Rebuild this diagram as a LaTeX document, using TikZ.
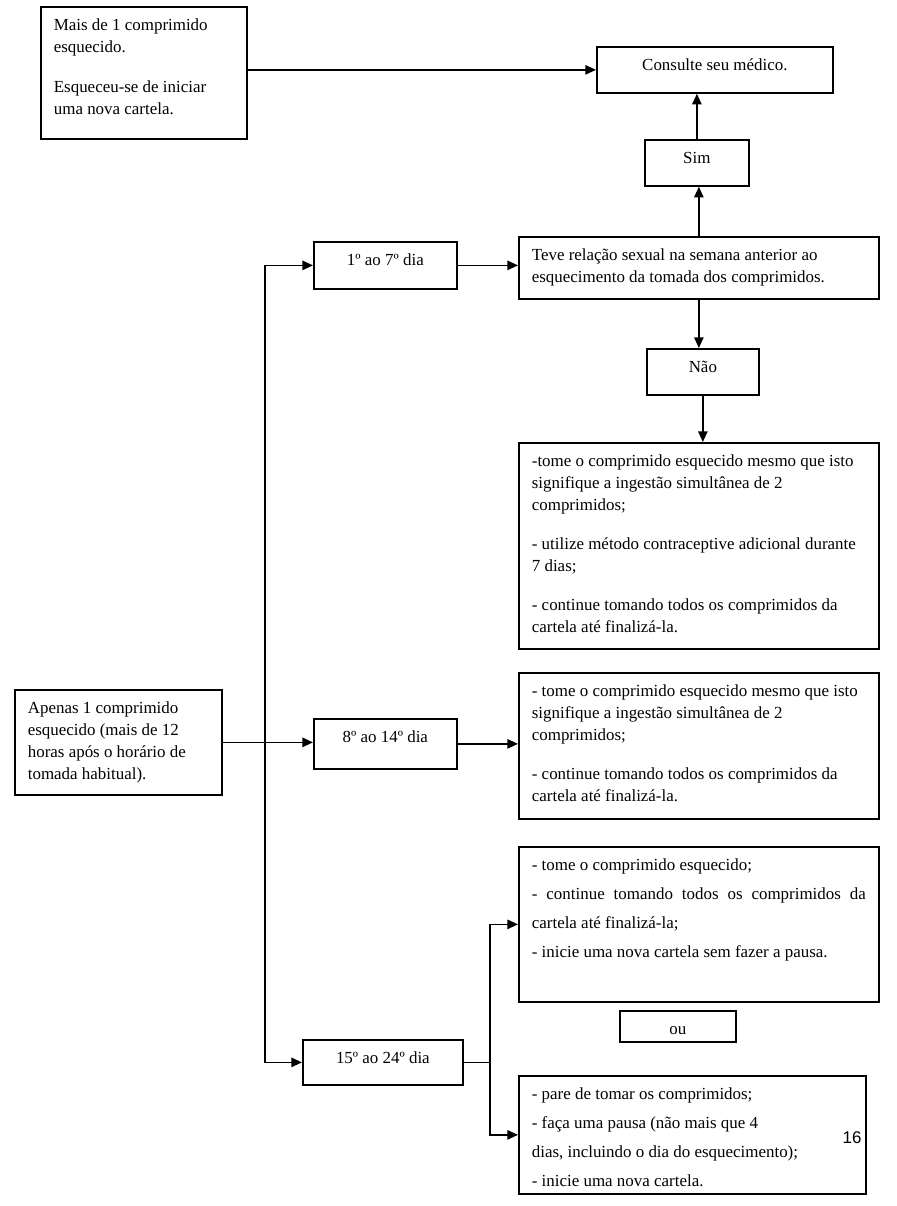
\documentclass[tikz,border=0pt]{standalone}
\usepackage{fontspec}
\setmainfont{Liberation Serif}
\newfontfamily\pagefont{Liberation Sans}
\usetikzlibrary{arrows.meta}

\newlength\px
\setlength\px{0.75pt}
\hyphenpenalty=10000
\exhyphenpenalty=10000
% fixed size text cell: width, height (in pixels of the page), text
\newcommand{\cell}[3]{\parbox[t][\dimexpr#2\px-14\px\relax][t]{\dimexpr#1\px-26\px\relax}{\raggedright\rule{0pt}{17\px}#3}}

\begin{document}
\begin{tikzpicture}[x=0.75pt, y=-0.75pt,
    box/.style={draw, line width=1.3pt, anchor=north west, inner xsep=9.75pt, inner ysep=5.25pt,
      font=\fontsize{12.7}{16.5}\selectfont},
    arr/.style={line width=1.3pt, -{Triangle[length=8pt, width=7pt]}},
    link/.style={line width=1.3pt}]
  \useasboundingbox (0,0) rectangle (896,1206);

  % More than one pill forgotten
  \node[box] (mais) at (40,6) {\cell{206}{132}{Mais de 1 comprimido\\ esquecido.\par\vspace{18\px}Esqueceu-se de iniciar\\ uma nova cartela.}};
  \node[box] (consulte) at (596,46) {\cell{236}{46}{\centering Consulte seu médico.}};
  \node[box] (sim) at (644,139) {\cell{104}{46}{\centering Sim}};
  \node[box] (teve) at (518,236) {\cell{360}{62}{Teve relação sexual na semana anterior ao\\ esquecimento da tomada dos comprimidos.}};
  \node[box] (nao) at (646,348) {\cell{112}{46}{\centering Não}};

  % Week one
  \node[box] (d1) at (313,241) {\cell{143}{47}{\centering 1º ao 7º dia}};
  \node[box] (week1) at (518,442) {\cell{360}{206}{-tome o comprimido esquecido mesmo que isto\\ signifique a ingestão simultânea de 2\\ comprimidos;\par\vspace{17\px}- utilize método contraceptive adicional durante\\ 7 dias;\par\vspace{17\px}- continue tomando todos os comprimidos da\\ cartela até finalizá-la.}};

  % Only one pill forgotten
  \node[box] (apenas) at (14,689) {\cell{207}{105}{Apenas 1 comprimido\\ esquecido (mais de 12\\ horas após o horário de\\ tomada habitual).}};

  % Week two
  \node[box] (d8) at (313,718) {\cell{143}{50}{\centering 8º ao 14º dia}};
  \node[box] (week2) at (518,672) {\cell{360}{146}{- tome o comprimido esquecido mesmo que isto\\ signifique a ingestão simultânea de 2\\ comprimidos;\par\vspace{17\px}- continue tomando todos os comprimidos da\\ cartela até finalizá-la.}};

  % Week three
  \node[box] (d15) at (302,1039) {\cell{160}{45}{\centering 15º ao 24º dia}};
  \node[box] (week3a) at (518,846) {\cell{360}{155}{\fontsize{12.7}{21.75}\selectfont\rightskip=0pt\tolerance=9999\relax
    - tome o comprimido esquecido;\par
    - continue tomando todos os comprimidos da cartela até finalizá-la;\par
    - inicie uma nova cartela sem fazer a pausa.}};
  \node[box] (ou) at (619,1010) {\cell{116}{30}{\centering ou}};
  \node[box] (week3b) at (518,1075) {\cell{347}{118}{\fontsize{12.7}{21.75}\selectfont
    - pare de tomar os comprimidos;\par
    - faça uma pausa (não mais que 4\par
    dias, incluindo o dia do esquecimento);\par
    - inicie uma nova cartela.}};
  \node[font=\pagefont\fontsize{12.7}{15}\selectfont] (pagenum) at (852,1138) {16};

  % Connectors
  \coordinate (trunk) at (265,0);
  \coordinate (fork) at (490,0);
  \draw[arr] (mais.east |- consulte.west) -- (consulte.west);
  \draw[arr] (sim.north) -- (sim.north |- consulte.south);
  \draw[arr] (teve.north) -- (teve.north |- sim.south);
  \draw[arr] (teve.south) -- (teve.south |- nao.north);
  \draw[arr] (nao.south) -- (nao.south |- week1.north);
  \draw[arr] (d1.east) -- (d1.east -| teve.west);
  \draw[arr] (trunk |- d1.west) -- (d1.west);
  \draw[arr] (trunk |- d1.west) -- (trunk |- d15.west) -- (d15.west);
  \draw[arr] (apenas.east) -- (apenas.east -| d8.west);
  \draw[arr] (d8.east) -- (d8.east -| week2.west);
  \draw[link] (d15.east) -- (fork |- d15.east);
  \draw[arr] (fork |- d15.east) -- (fork |- week3a.west) -- (week3a.west);
  \draw[arr] (fork |- d15.east) -- (fork |- week3b.west) -- (week3b.west);
\end{tikzpicture}
\end{document}
